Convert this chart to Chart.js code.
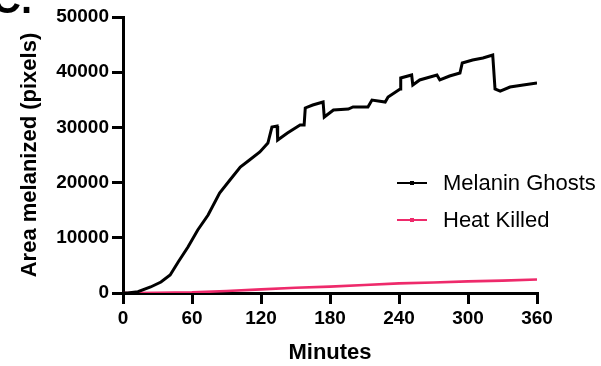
<!DOCTYPE html>
<html>
<head>
<meta charset="utf-8">
<script src="https://cdn.jsdelivr.net/npm/chart.js@4.4.1/dist/chart.umd.min.js"></script>
<style>
  html, body { margin: 0; padding: 0; background: #fff; }
  #wrap { width: 601px; height: 366px; position: relative; }
</style>
</head>
<body>
<div id="wrap"><canvas id="melanChart" width="601" height="366"></canvas></div>
<script>
// values
const ghostMinutes = [0, 4, 13, 24, 33, 41, 48, 56.5, 65, 74, 84, 93, 102, 110, 119, 126, 129.5, 134, 134.5, 143,
    154, 157.5, 158.5, 165, 174, 175, 183, 196, 200, 213, 216.5, 228, 230.5, 241, 241.5, 251, 252, 258, 273, 275.5,
    284, 293, 295, 304, 313, 321.5, 323.5, 328, 336.5, 348, 360];
const ghostArea = [0, 0, 235, 1090, 1990, 3260, 5620, 8330, 11410, 14130, 18120, 20470, 22830, 24090, 25540, 27170, 30070, 30250, 27720, 28990,
    30430, 30430, 33520, 34060, 34600, 31880, 33150, 33330, 33700, 33700, 34960, 34600, 35510, 36960, 38950, 39490, 37680, 38590, 39490, 38590,
    39310, 39860, 41670, 42210, 42570, 43120, 36960, 36590, 37320, 37680, 38040];

const heatMinutes = [0, 10, 30, 60, 90, 120, 150, 180, 210, 240, 270, 300, 330, 360];
const heatArea = [0, 0, 30, 120, 350, 650, 950, 1150, 1450, 1750, 1900, 2100, 2250, 2450];

const xTicks = [0, 60, 120, 180, 240, 300, 360];
const yTicks = [0, 10000, 20000, 30000, 40000, 50000];

const seriesNames = ['Melanin Ghosts', 'Heat Killed'];
const seriesColors = ['#000000', '#ee2a6b'];

const toPoints = (xs, ys) => xs.map((x, i) => ({ x: x, y: ys[i] }));

// legend + panel letter drawn by hand
const extras = {
    id: 'extras',
    afterDraw(chart) {
        const c = chart.ctx;
        c.save();
        c.font = 'bold 40px "Liberation Sans", Arial, sans-serif';
        c.fillStyle = '#000';
        c.textBaseline = 'alphabetic';
        c.fillText('C.', -8, 13);

        const rows = [183, 220];
        c.font = '22px "Liberation Sans", Arial, sans-serif';
        c.textBaseline = 'middle';
        rows.forEach((y, i) => {
            c.strokeStyle = seriesColors[i];
            c.lineWidth = 2;
            c.beginPath();
            c.moveTo(397, y);
            c.lineTo(427, y);
            c.stroke();
            c.fillStyle = seriesColors[i];
            c.fillRect(410, y - 2, 4, 4);
            c.fillStyle = '#000';
            c.fillText(seriesNames[i], 443, y + 1);
        });
        c.restore();
    }
};

const tickFont = { family: '"Liberation Sans", Arial, sans-serif', size: 19, weight: 'bold' };
const titleFont = { family: '"Liberation Sans", Arial, sans-serif', size: 22, weight: 'bold' };

new Chart(document.getElementById('melanChart'), {
    type: 'line',
    data: {
        datasets: [{
            label: seriesNames[0],
            data: toPoints(ghostMinutes, ghostArea),
            borderColor: seriesColors[0],
            backgroundColor: seriesColors[0],
            borderWidth: 3,
            pointRadius: 0,
            tension: 0
        }, {
            label: seriesNames[1],
            data: toPoints(heatMinutes, heatArea),
            borderColor: seriesColors[1],
            backgroundColor: seriesColors[1],
            borderWidth: 2.6,
            pointRadius: 0,
            tension: 0
        }]
    },
    options: {
        responsive: false,
        animation: false,
        layout: { padding: { top: 17, right: 64, left: 0, bottom: 0 } },
        plugins: { legend: { display: false }, tooltip: { enabled: false } },
        scales: {
            x: {
                type: 'linear',
                min: 0,
                max: 360,
                afterBuildTicks: axis => { axis.ticks = xTicks.map(v => ({ value: v })); },
                border: { color: '#000', width: 3 },
                grid: { drawOnChartArea: false, color: '#000', lineWidth: 3, tickLength: 11 },
                ticks: { color: '#000', font: tickFont, padding: 3, maxRotation: 0, callback: v => String(v) },
                title: { display: true, text: 'Minutes', color: '#000', font: titleFont, padding: { top: 8, bottom: 0 } },
                afterFit: axis => { axis.height = 73; }
            },
            y: {
                min: 0,
                max: 50000,
                afterBuildTicks: axis => { axis.ticks = yTicks.map(v => ({ value: v })); },
                border: { color: '#000', width: 3 },
                grid: { drawOnChartArea: false, color: '#000', lineWidth: 3, tickLength: 11 },
                ticks: { color: '#000', font: tickFont, padding: 3, callback: v => String(v) },
                title: { display: true, text: 'Area melanized (pixels)', color: '#000', font: titleFont, padding: { top: 17, bottom: 0 } },
                afterFit: axis => { axis.width = 123; }
            }
        }
    },
    plugins: [extras]
});
</script>
</body>
</html>
